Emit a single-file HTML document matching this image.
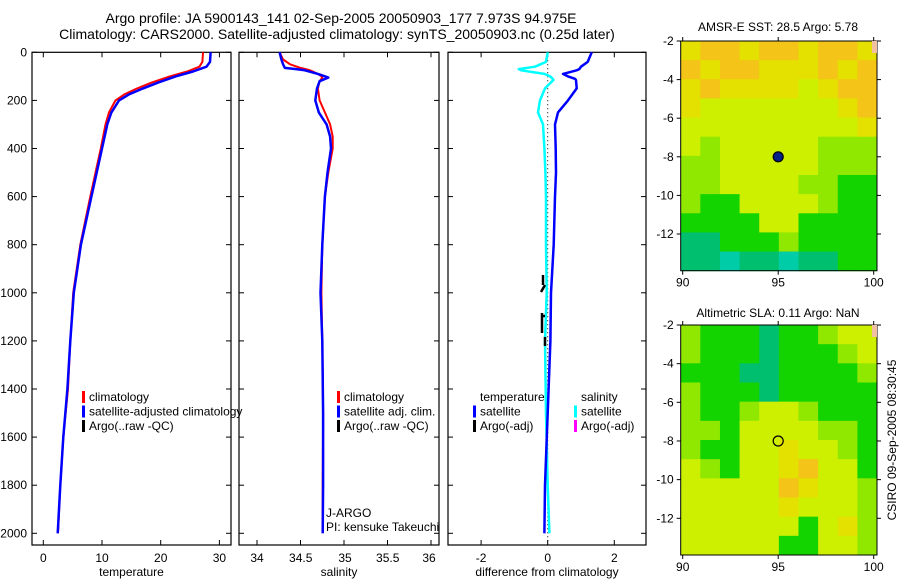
<!DOCTYPE html>
<html><head><meta charset="utf-8"><style>
body{margin:0;background:#fff}
svg{display:block;font-family:"Liberation Sans",sans-serif}
text{fill:#000}
</style></head><body>
<svg id="fig" width="900" height="580" viewBox="0 0 900 580">
<rect width="900" height="580" fill="#fff"/>
<text x="341" y="23" font-size="14" text-anchor="middle">Argo profile: JA 5900143_141 02-Sep-2005 20050903_177 7.973S 94.975E</text>
<text x="337" y="39" font-size="14" text-anchor="middle">Climatology: CARS2000. Satellite-adjusted climatology: synTS_20050903.nc (0.25d later)</text>
<g id="p1"></g>
<g id="p2"></g>
<g id="p3"></g>
<g id="m1"></g>
<g id="m2"></g>
<text x="778" y="31" font-size="12" text-anchor="middle">AMSR-E SST: 28.5 Argo: 5.78</text>
<text x="778" y="317" font-size="12" text-anchor="middle">Altimetric SLA: 0.11 Argo: NaN</text>
<text transform="translate(896,440) rotate(-90)" font-size="12" text-anchor="middle">CSIRO 09-Sep-2005 08:30:45</text>
</svg>
<script>
// ---- data ----
const tempDepths = [0,40,60,80,100,125,150,175,200,250,300,400,500,600,800,1000,1200,1400,1600,1800,2000];
const tempClim =   [27.2,27.1,26.6,24.5,21.6,18.5,16.0,13.8,12.3,11.2,10.6,9.8,8.9,8.0,6.3,5.1,4.6,4.2,3.4,2.9,2.5];
const tempSat =    [28.5,28.4,27.8,25.5,22.6,19.6,17.0,14.6,12.9,11.6,10.9,10.0,9.1,8.2,6.4,5.2,4.6,4.1,3.4,2.9,2.45];
const salDepths = [0,30,50,65,70,75,90,100,105,120,150,200,250,300,350,400,500,600,800,1000,1200,1500,1800,2000];
const salClim =   [34.26,34.3,34.38,34.5,34.56,34.61,34.7,34.74,34.75,34.72,34.7,34.72,34.78,34.84,34.87,34.87,34.82,34.78,34.75,34.74,34.75,34.76,34.755,34.755];
const salSat =    [34.26,34.28,34.3,34.32,34.45,34.55,34.7,34.78,34.82,34.72,34.69,34.67,34.71,34.8,34.84,34.85,34.81,34.78,34.75,34.73,34.75,34.76,34.76,34.755];
const diffDepths = [0,40,60,70,75,90,100,110,115,150,200,250,300,400,500,600,800,1000,1200,1500,1800,2000];
const diffTemp =   [1.32,1.2,1.0,0.95,0.87,0.46,0.6,0.82,0.85,0.87,0.61,0.31,0.22,0.24,0.25,0.22,0.18,0.1,0.08,0.0,-0.08,-0.1];
const diffSal =    [0,-0.05,-0.38,-0.87,-0.8,-0.1,0.07,0.15,0.17,-0.08,-0.23,-0.29,-0.14,-0.1,-0.07,-0.05,-0.05,-0.03,-0.08,-0.05,0.0,0.05];
const tempTicks = [0,10,20,30];
const salTicks = [34,34.5,35,35.5,36];
const diffTicks = [-2,0,2];
const depthTicks = [0,200,400,600,800,1000,1200,1400,1600,1800,2000];
const mapLonTicks = [90,95,100];
const mapLatTicks = [-2,-4,-6,-8,-10,-12];
const sstGrid = ["YOOYOOYOOY","OYOOYYYOYO","YOYYYYLYOO","YLLLLLLLYO","LLLLLLLLLY","LGLLLLLGGG","GGLLLLLGGG","GGLLLLGGDD","GDDLLLLGDD","DDDDLLDDDD","TTDDDGDDDD","TTCTTCTTDD"];
const slaGrid = ["GDDDTDDGLL","GDDDTDDDGL","DDDTTDDDDG","GDDDTDDDDD","GDDGLLGDDD","GGDLLLLGGD","GDDLLYLLGD","LGDLLYOLLD","LLLLLOYLLG","LLLLLYLLLG","LLLLLLDLYG","LLLLLDDLLG"];
const palette = {O:"#f4c418",Y:"#e4e000",L:"#ccf000",G:"#90e800",D:"#14d400",T:"#00c070",C:"#00cca8"};

const NS="http://www.w3.org/2000/svg";
function mk(parent,tag,attrs){const e=document.createElementNS(NS,tag);for(const k in attrs)e.setAttribute(k,attrs[k]);parent.appendChild(e);return e;}
const yTop=52.3, yPer=0.2405, yBot=545;
function yD(d){return yTop+d*yPer;}
function linear(v0,px0,pxPerUnit){return v=>px0+(v-v0)*pxPerUnit;}

function panel(g,x0,x1,xs,ticks,label,showDepth,tickPos){
  const fr=mk(g,'rect',{x:x0,y:yTop,width:x1-x0,height:yBot-yTop,fill:'none',stroke:'#000','stroke-width':1.2});
  
  
  ticks.forEach((t,i)=>{const x=xs(t);
    mk(g,'line',{x1:x,x2:x,y1:yBot,y2:yBot-5,stroke:'#000'});
    mk(g,'line',{x1:x,x2:x,y1:yTop,y2:yTop+5,stroke:'#000'});
    const tx=mk(g,'text',{x:tickPos?tickPos[i]:x,y:562,'font-size':12,'text-anchor':'middle'});tx.textContent=t;
    
    
  });
  depthTicks.forEach(d=>{const y=yD(d);
    mk(g,'line',{x1:x0,x2:x0+5,y1:y,y2:y,stroke:'#000'});
    mk(g,'line',{x1:x1,x2:x1-5,y1:y,y2:y,stroke:'#000'});
    if(showDepth){const tx=mk(g,'text',{x:27,y:y+4,'font-size':12,'text-anchor':'end'});tx.textContent=d;
      
      }
  });
  const xl=mk(g,'text',{x:(x0+x1)/2,y:576,'font-size':12,'text-anchor':'middle'});xl.textContent=label;
  
  
}
function line(g,depths,vals,xs,color,w,name){
  const pts=depths.map((d,i)=>xs(vals[i]).toFixed(1)+','+yD(d).toFixed(1)).join(' ');
  const p=mk(g,'polyline',{points:pts,fill:'none',stroke:color,'stroke-width':w,'stroke-linejoin':'round'});
  
  
}
function legend(g,x,y,items){
  items.forEach((it,i)=>{
    if(it[1])mk(g,'rect',{x:x,y:y+i*14.5-10,width:3,height:12,fill:it[1]});
    const t=mk(g,'text',{x:x+7,y:y+i*14.5,'font-size':12});t.textContent=it[0];
    
    
  });
}
// panel 1
const p1=document.getElementById('p1');
const xT=linear(0,43.3,5.87);
panel(p1,32,231,xT,tempTicks,'temperature',true);
line(p1,tempDepths,tempClim,xT,'#f00',2,'temperature-climatology-line');
line(p1,tempDepths,tempSat,xT,'#00f',2.5,'temperature-satellite-line');
legend(p1,82,401,[['climatology','#f00'],['satellite-adjusted climatology','#00f'],['Argo(..raw -QC)','#000']]);
// panel 2
const p2=document.getElementById('p2');
const xS=linear(34,257,87);
panel(p2,239,439,xS,salTicks,'salinity',false,[257,300.7,345,387.7,429]);
line(p2,salDepths,salClim,xS,'#f00',2,'salinity-climatology-line');
line(p2,salDepths,salSat,xS,'#00f',2.5,'salinity-satellite-line');
legend(p2,337,401,[['climatology','#f00'],['satellite adj. clim.','#00f'],['Argo(..raw -QC)','#000']]);
const t1=mk(p2,'text',{x:326,y:517,'font-size':12});t1.textContent='J-ARGO';
const t2=mk(p2,'text',{x:326,y:531,'font-size':12});t2.textContent='PI: kensuke Takeuchi';
// panel 3
const p3=document.getElementById('p3');
const xDf=linear(0,547.7,33.3);
panel(p3,448,646,xDf,diffTicks,'difference from climatology',false);
mk(p3,'line',{x1:xDf(0),x2:xDf(0),y1:yTop,y2:yBot,stroke:'#000','stroke-dasharray':'1,3'});
line(p3,diffDepths,diffSal,xDf,'#0ff',2.5,'salinity-difference-line');
line(p3,diffDepths,diffTemp,xDf,'#00f',2.5,'temperature-difference-line');
[[543,275,543,285],[541,292,545,285],[542,313,542,333],[545,337,545,346],[541,316,545,316]].forEach(s=>mk(p3,'line',{x1:s[0],y1:s[1],x2:s[2],y2:s[3],stroke:'#000','stroke-width':2.5}));
legend(p3,473,401,[['temperature',null],['satellite','#00f'],['Argo(-adj)','#000']]);
legend(p3,574,401,[['salinity',null],['satellite','#0ff'],['Argo(-adj)','#f0f']]);
// maps
function map(id,grid,top,bottom,latTop,latPer,filled){
  const g=document.getElementById(id);
  const x0=680.7,x1=877,cols=grid[0].length,rows=grid.length;
  const cw=(x1-x0)/cols,ch=(bottom-top)/rows;
  grid.forEach((r,ri)=>[...r].forEach((c,ci)=>{
    mk(g,'rect',{x:x0+ci*cw,y:top+ri*ch,width:cw+0.5,height:ch+0.5,fill:palette[c]});
  }));
  mk(g,'rect',{x:x0,y:top,width:x1-x0,height:bottom-top,fill:'none',stroke:'#000'});
  const lon=linear(90,682.7,19.1), lat=linear(latTop,top,latPer);
  mapLonTicks.forEach(v=>{const x=lon(v);mk(g,'line',{x1:x,x2:x,y1:bottom,y2:bottom+4,stroke:'#000'});mk(g,'line',{x1:x,x2:x,y1:top,y2:top-4,stroke:'#000'});
    const t=mk(g,'text',{x:x,y:bottom+16,'font-size':12,'text-anchor':'middle'});t.textContent=v;});
  mapLatTicks.forEach(v=>{const y=lat(v);mk(g,'line',{x1:x0-4,x2:x0,y1:y,y2:y,stroke:'#000'});mk(g,'line',{x1:x1,x2:x1+4,y1:y,y2:y,stroke:'#000'});
    const t=mk(g,'text',{x:x0-7,y:y+4,'font-size':12,'text-anchor':'end'});t.textContent=v;});
  mk(g,'circle',{cx:lon(95),cy:lat(-8),r:5,fill:filled?'#00208a':'none',stroke:'#000','stroke-width':1.2});
  mk(g,'rect',{x:x1-5,y:top,width:5,height:12,fill:'#f0c0a0'});
}
map('m1',sstGrid,41,270.7,-2,-19.3,true);
map('m2',slaGrid,325,555,-2,-19.33,false);
</script>
</body></html>
